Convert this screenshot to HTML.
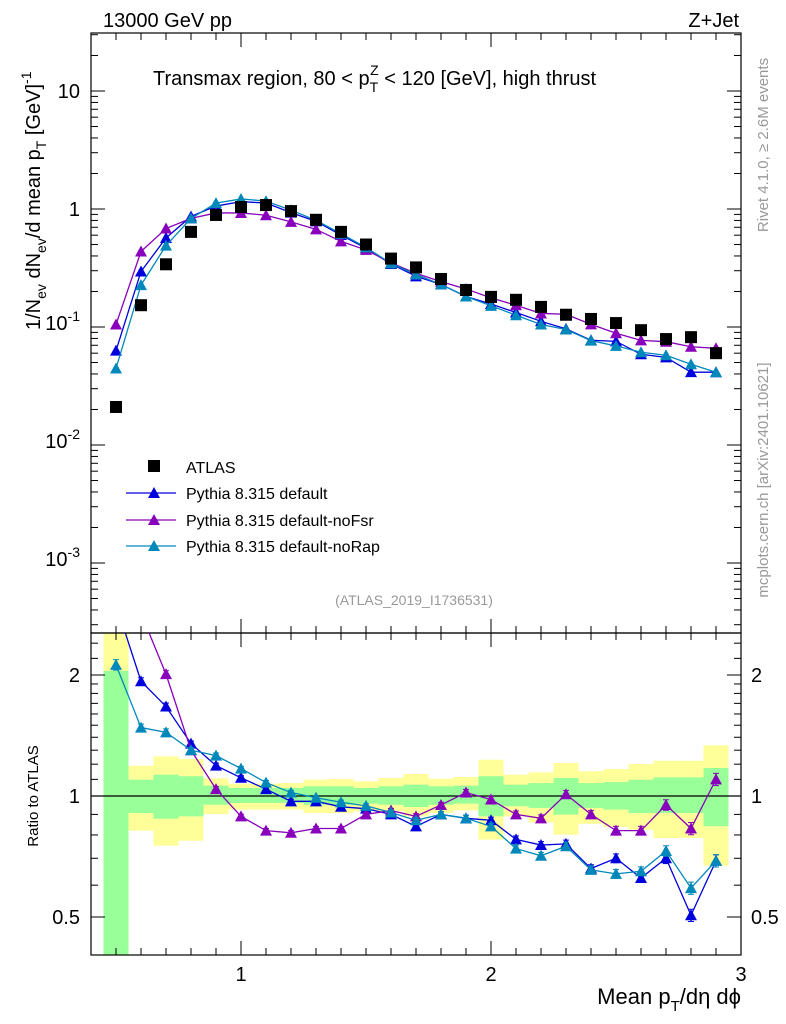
<!DOCTYPE html>
<html><head><meta charset="utf-8"><style>
html,body{margin:0;padding:0;background:#fff;}
svg{display:block;font-family:"Liberation Sans",sans-serif;}
</style></head><body>
<svg id="c" width="786" height="1024" viewBox="0 0 786 1024" xmlns="http://www.w3.org/2000/svg"></svg>
<script>
// ---- data ----
const xCenters = [0.5,0.6,0.7,0.8,0.9,1.0,1.1,1.2,1.3,1.4,1.5,1.6,1.7,1.8,1.9,2.0,2.1,2.2,2.3,2.4,2.5,2.6,2.7,2.8,2.9];
const atlasVals = [0.021,0.153,0.34,0.64,0.89,1.04,1.08,0.96,0.81,0.64,0.50,0.38,0.32,0.255,0.206,0.18,0.17,0.148,0.127,0.117,0.108,0.094,0.079,0.082,0.060];
const ratioDefault = [3.0,1.93,1.67,1.35,1.19,1.11,1.04,0.97,0.97,0.94,0.93,0.90,0.84,0.90,0.88,0.87,0.78,0.755,0.76,0.66,0.70,0.625,0.70,0.505,0.69];
const ratioNoFsr = [5.0,2.85,2.01,1.30,1.04,0.89,0.82,0.81,0.83,0.83,0.90,0.92,0.89,0.95,1.02,0.98,0.90,0.88,1.01,0.90,0.82,0.82,0.95,0.83,1.10];
const ratioNoRap = [2.12,1.48,1.44,1.30,1.26,1.17,1.08,1.02,0.99,0.965,0.945,0.91,0.87,0.90,0.88,0.84,0.74,0.71,0.75,0.655,0.64,0.65,0.73,0.59,0.69];
const relErr = [0.03,0.02,0.02,0.015,0.015,0.012,0.012,0.012,0.012,0.012,0.012,0.012,0.015,0.015,0.018,0.018,0.02,0.02,0.022,0.022,0.025,0.025,0.03,0.035,0.035];
const yellowUp = [3.0,1.19,1.255,1.236,1.107,1.073,1.073,1.077,1.098,1.102,1.088,1.109,1.134,1.104,1.115,1.231,1.13,1.145,1.208,1.152,1.167,1.201,1.224,1.224,1.337];
const yellowDn = [0.3,0.82,0.752,0.774,0.902,0.925,0.925,0.925,0.907,0.907,0.916,0.916,0.89,0.907,0.921,0.779,0.89,0.86,0.801,0.853,0.837,0.824,0.786,0.786,0.671];
const greenUp = [2.05,1.098,1.13,1.12,1.061,1.047,1.047,1.047,1.057,1.057,1.047,1.057,1.067,1.057,1.061,1.12,1.067,1.077,1.109,1.077,1.083,1.098,1.113,1.113,1.174];
const greenDn = [0.3,0.907,0.878,0.89,0.951,0.961,0.961,0.961,0.951,0.951,0.957,0.951,0.939,0.951,0.957,0.89,0.943,0.934,0.899,0.934,0.925,0.907,0.907,0.907,0.841];
const mainYTicks = ["10^1","1","10^-1","10^-2","10^-3"];

// ---- geometry ----
const NS="http://www.w3.org/2000/svg";
const svg=document.getElementById('c');
const L=91,R=741,T=33,MB=633,RB=955;
const sx=v=>L+(v-0.4)*250;
const sy=v=>209-118*Math.log10(v);
const ry=v=>796-121*Math.log2(v);
function el(tag,attrs,parent){const e=document.createElementNS(NS,tag);for(const k in attrs)e.setAttribute(k,attrs[k]);(parent||svg).appendChild(e);return e;}
function txt(s,x,y,size,anchor,fill,parent){const t=el('text',{x:x,y:y,'font-size':size,'text-anchor':anchor||'start',fill:fill||'#000'},parent);t.textContent=s;return t;}

// clip paths
const defs=el('defs',{});
const c1=el('clipPath',{id:'cm'},defs);el('rect',{x:L,y:T,width:R-L,height:MB-T},c1);
const c2=el('clipPath',{id:'cr'},defs);el('rect',{x:L,y:MB,width:R-L,height:RB-MB},c2);

// ratio bands
const bandG=el('g',{'clip-path':'url(#cr)'});


xCenters.forEach((x,i)=>{
  const x0=sx(x-0.05),x1=sx(x+0.05);
  const y=el('rect',{x:x0,y:ry(yellowUp[i]),width:x1-x0,height:ry(yellowDn[i])-ry(yellowUp[i]),fill:'#ffff99'},bandG);
  
  
  const g=el('rect',{x:x0,y:ry(greenUp[i]),width:x1-x0,height:ry(greenDn[i])-ry(greenUp[i]),fill:'#99ff99'},bandG);
  
  
});
el('line',{x1:L,x2:R,y1:ry(1),y2:ry(1),stroke:'#000','stroke-width':1.2});

// frames
el('rect',{x:L,y:T,width:R-L,height:MB-T,fill:'none',stroke:'#000','stroke-width':1.2});
el('rect',{x:L,y:MB,width:R-L,height:RB-MB,fill:'none',stroke:'#000','stroke-width':1.2});

// x ticks
for(let k=5;k<=29;k++){
  const v=k/10,x=sx(v),maj=(k%10===0),len=maj?14:7;
  [[T,1],[MB,-1],[MB,1],[RB,-1]].forEach(([y0,d])=>el('line',{x1:x,x2:x,y1:y0,y2:y0+d*len,stroke:'#000','stroke-width':1}));
}
// main y ticks
for(let d=-4;d<=1;d++){
  for(let m=1;m<=9;m++){
    const v=m*Math.pow(10,d),y=sy(v);
    if(y<T||y>MB)continue;
    const len=m===1?14:7;
    el('line',{x1:L,x2:L+len,y1:y,y2:y,stroke:'#000'});
    el('line',{x1:R,x2:R-len,y1:y,y2:y,stroke:'#000'});
  }
}
// main y labels
function yLab(base,exp,y){
  const t=el('text',{x:80,y:y+7,'font-size':20,'text-anchor':'end'});
  
  
  if(exp===null){t.textContent=base;return;}
  const a=el('tspan',{},t);a.textContent=base;
  const b=el('tspan',{dy:-9,'font-size':14},t);b.textContent=exp;
}
mainYTicks.forEach((s,i)=>{
  const v=Math.pow(10,1-i),y=sy(v);
  if(s==="10^1")yLab("10",null,y);else if(s==="1")yLab("1",null,y);else{const p=s.split('^');yLab(p[0],p[1],y-4);}
});
// ratio y ticks (log2)
[0.4,0.5,0.6,0.7,0.8,0.9,1,1.1,1.2,1.3,1.4,1.5,1.6,1.7,1.8,1.9,2,2.2,2.4].forEach(v=>{
  const y=ry(v);if(y<MB||y>RB)return;
  const maj=(v===0.5||v===1||v===2),len=maj?14:7;
  el('line',{x1:L,x2:L+len,y1:y,y2:y,stroke:'#000'});
  el('line',{x1:R,x2:R-len,y1:y,y2:y,stroke:'#000'});
});
[["2",2],["1",1],["0.5",0.5]].forEach(([s,v])=>{
  const a=txt(s,80,ry(v)+7,20,'end');
  
  
  const b=txt(s,751,ry(v)+7,20,'start');
  
  
});
[["1",1],["2",2],["3",3]].forEach(([s,v])=>{
  const t=txt(s,sx(v),981,20,'middle');
  
  
});

// series
const series=[
  {name:'pythia-default',color:'#0000dd',ratio:ratioDefault},
  {name:'pythia-nofsr',color:'#8800bb',ratio:ratioNoFsr},
  {name:'pythia-norap',color:'#0088bb',ratio:ratioNoRap}
];
function tri(g,x,y,c){return el('path',{d:`M${x},${y-6} L${x+6},${y+5} L${x-6},${y+5} Z`,fill:c},g);}
const mainG=el('g',{'clip-path':'url(#cm)'});
const ratG=el('g',{'clip-path':'url(#cr)'});
series.forEach(s=>{
  const g=el('g',{},mainG);
  
  
  const pts=xCenters.map((x,i)=>[sx(x),sy(atlasVals[i]*s.ratio[i])]);
  el('polyline',{points:pts.map(p=>p.join(',')).join(' '),fill:'none',stroke:s.color,'stroke-width':1.3},g);
  pts.forEach(p=>{const m=tri(g,p[0],p[1],s.color);});
  const g2=el('g',{},ratG);
  
  
  const rp=xCenters.map((x,i)=>[sx(x),ry(s.ratio[i])]);
  el('polyline',{points:rp.map(p=>p.join(',')).join(' '),fill:'none',stroke:s.color,'stroke-width':1.3},g2);
  rp.forEach((p,i)=>{
    const e=s.ratio[i]*relErr[i];
    const y1=ry(s.ratio[i]+e),y2=ry(s.ratio[i]-e);
    el('line',{x1:p[0],x2:p[0],y1:y1,y2:y2,stroke:s.color,'stroke-width':1.3},g2);
    el('line',{x1:p[0]-3,x2:p[0]+3,y1:y1,y2:y1,stroke:s.color},g2);
    el('line',{x1:p[0]-3,x2:p[0]+3,y1:y2,y2:y2,stroke:s.color},g2);
    const m=tri(g2,p[0],p[1],s.color);
    
    
  });
});
// atlas
const ag=el('g',{},mainG);


xCenters.forEach((x,i)=>{
  const m=el('rect',{x:sx(x)-6,y:sy(atlasVals[i])-6,width:12,height:12,fill:'#000'},ag);
  
  
});

// legend
const lg=el('g',{});


el('rect',{x:148,y:460,width:12,height:12,fill:'#000'},lg);
txt('ATLAS',186,473,16,'start','#000',lg);
[['Pythia 8.315 default','#0000dd',493],['Pythia 8.315 default-noFsr','#8800bb',520],['Pythia 8.315 default-noRap','#0088bb',546]].forEach(([n,c,y])=>{
  el('line',{x1:126,x2:176,y1:y,y2:y,stroke:c,'stroke-width':1.3},lg);
  tri(lg,154,y,c);
  const t=txt(n,186,y+6,16,'start','#000',lg);
  
  
});
</script>
<svg width="786" height="1024" style="position:absolute;left:0;top:0" xmlns="http://www.w3.org/2000/svg">
<g font-family="Liberation Sans, sans-serif">
<text x="103" y="27" font-size="20">13000 GeV pp</text>
<text x="739" y="27" font-size="20" text-anchor="end">Z+Jet</text>
<text x="153" y="85" font-size="20">Transmax region, 80 &lt; p<tspan dy="7" font-size="14">T</tspan><tspan dx="-8" dy="-17" font-size="14">Z</tspan><tspan dy="10"> &lt; 120 [GeV], high thrust</tspan></text>
<text x="414" y="605" font-size="14" fill="#999" text-anchor="middle">(ATLAS_2019_I1736531)</text>
<text transform="translate(768,145) rotate(-90)" font-size="15" fill="#999" text-anchor="middle">Rivet 4.1.0, ≥ 2.6M events</text>
<text transform="translate(768,480) rotate(-90)" font-size="15" fill="#999" text-anchor="middle">mcplots.cern.ch [arXiv:2401.10621]</text>
<text transform="translate(40,330) rotate(-90)" font-size="20" text-anchor="start">1/N<tspan dy="6" font-size="14">ev</tspan><tspan dy="-6"> dN</tspan><tspan dy="6" font-size="14">ev</tspan><tspan dy="-6">/d mean p</tspan><tspan dy="6" font-size="14">T</tspan><tspan dy="-6"> [GeV]</tspan><tspan dy="-9" font-size="14">-1</tspan></text>
<text transform="translate(38,796) rotate(-90)" font-size="15" text-anchor="middle">Ratio to ATLAS</text>
<text x="741" y="1004" font-size="22" text-anchor="end">Mean p<tspan dy="7" font-size="15">T</tspan><tspan dy="-7">/dη dϕ</tspan></text>
</g></svg>
</body></html>
